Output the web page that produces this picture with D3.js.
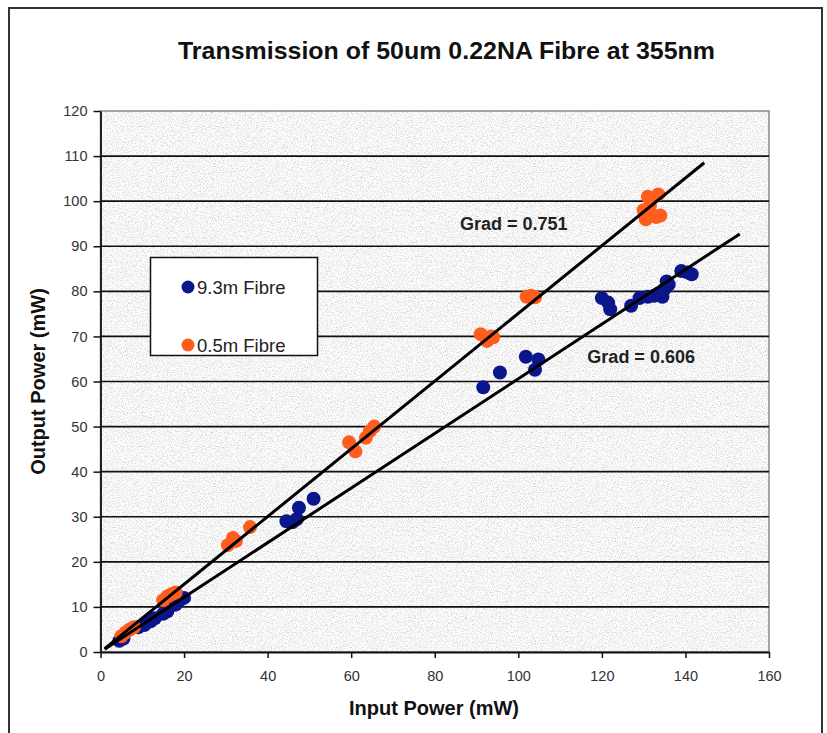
<!DOCTYPE html>
<html>
<head>
<meta charset="utf-8">
<script src="https://cdn.jsdelivr.net/npm/d3@7"></script>
<style>
  html, body { margin: 0; padding: 0; background: #fff; }
  svg { display: block; font-family: "Liberation Sans", Arial, sans-serif; }
</style>
</head>
<body>
<div id="chart"></div>
<script>
/* Transmission of 50um 0.22NA fibre at 355nm — scatter + fitted gradients */

// ── data ────────────────────────────────────────────────────
const fibre93In  = [4.5, 5.5, 9, 10.5, 12, 13, 15, 16, 18, 19, 20,
                    44.5, 46, 47, 47.5, 51,
                    91.6, 95.6, 101.8, 104.8, 104,
                    120, 121.5, 122, 127, 129, 131, 132.5, 133.5, 134.5, 135, 135.5, 136, 139, 140.5, 141.5];
const fibre93Out = [2.5, 3, 5.5, 6, 6.8, 7.5, 8.5, 9, 10.5, 11.5, 12,
                    29, 28.8, 29.5, 32, 34,
                    58.7, 62, 65.5, 64.9, 62.6,
                    78.5, 77.5, 76, 76.8, 78.5, 78.8, 79, 79.5, 78.8, 80.5, 82.2, 81.5, 84.5, 84.2, 83.8];

const fibre05In  = [5, 6, 7, 8, 15, 16, 17, 18,
                    30.5, 31.7, 32.4, 35.8,
                    59.5, 61, 63.5, 64.5, 65.5,
                    91, 92.5, 93.5, 94,
                    102, 103, 104,
                    130, 130.5, 131, 132, 133, 133.5, 134, 131.5];
const fibre05Out = [3.5, 4.3, 5, 5.5, 11.5, 12.3, 12.8, 13.2,
                    23.7, 25.3, 24.6, 27.7,
                    46.5, 44.5, 47.5, 49, 50,
                    70.5, 69, 70, 69.8,
                    78.8, 79, 78.7,
                    98, 96, 101, 97, 96.5, 101.5, 96.8, 99];

const seriesNames = ['9.3m Fibre', '0.5m Fibre'];
const gradients   = [0.606, 0.751];
const fitStart    = [1, 1];
const fitEnd      = [153, 144.5];
const gradLabelAt = [[129.4, 65.4], [98.9, 94.9]];   // [input, output] of the "Grad =" label

const xTicks = [0, 20, 40, 60, 80, 100, 120, 140, 160];
const yTicks = [0, 10, 20, 30, 40, 50, 60, 70, 80, 90, 100, 110, 120];

// ── layout ──────────────────────────────────────────────────
const W = 827, H = 733;
const PL = 100.5, PR = 769, PT = 111, PB = 652;
const COL = { blue: '#0b168c', orange: '#ff5c1e' };
const R = 7;

const svg = d3.select('#chart').append('svg')
  .attr('width', W).attr('height', H);

const defs = svg.append('defs');
const flt = defs.append('filter').attr('id', 'granite')
  .attr('x', 0).attr('y', 0).attr('width', 1).attr('height', 1);
flt.append('feTurbulence')
  .attr('type', 'fractalNoise').attr('baseFrequency', 0.8)
  .attr('numOctaves', 3).attr('seed', 7).attr('result', 'n');
flt.append('feColorMatrix').attr('in', 'n').attr('type', 'matrix')
  .attr('values', '0.9 0 0 0 0.47  0.9 0 0 0 0.47  0.9 0 0 0 0.47  0 0 0 0 1');

defs.append('clipPath').attr('id', 'plotClip')
  .append('rect').attr('x', PL).attr('y', PT)
  .attr('width', PR - PL).attr('height', PB - PT);

// outer frame
svg.append('rect')
  .attr('x', 9).attr('y', 8).attr('width', 813).attr('height', 740)
  .attr('fill', '#fff').attr('stroke', '#333').attr('stroke-width', 2);

const x = d3.scaleLinear().domain([0, 160]).range([PL, PR]);
const y = d3.scaleLinear().domain([0, 120]).range([PB, PT]);

// plot area with granite texture
svg.append('rect')
  .attr('x', PL).attr('y', PT).attr('width', PR - PL).attr('height', PB - PT)
  .attr('filter', 'url(#granite)');
svg.append('rect')
  .attr('x', PL).attr('y', PT).attr('width', PR - PL).attr('height', PB - PT)
  .attr('fill', 'none').attr('stroke', '#8a8a8a').attr('stroke-width', 1.5);

// gridlines
svg.append('g').selectAll('line')
  .data(yTicks.filter(d => d > 0 && d < 120))
  .join('line')
  .attr('x1', PL).attr('x2', PR)
  .attr('y1', d => y(d)).attr('y2', d => y(d))
  .attr('stroke', '#111').attr('stroke-width', 1.6);

// axes
const xAxis = svg.append('g')
  .attr('transform', `translate(0,${PB})`)
  .call(d3.axisBottom(x).tickValues(xTicks).tickSize(6).tickSizeOuter(0));
const yAxis = svg.append('g')
  .attr('transform', `translate(${PL},0)`)
  .call(d3.axisLeft(y).tickValues(yTicks).tickSize(7).tickSizeOuter(0));

[xAxis, yAxis].forEach(a => {
  a.select('.domain').attr('stroke', '#111').attr('stroke-width', 1.8);
  a.selectAll('.tick line').attr('stroke', '#111').attr('stroke-width', 1.5);
  a.selectAll('.tick text')
    .attr('font-family', '"Liberation Sans", Arial, sans-serif')
    .attr('font-size', 14.5).attr('fill', '#333');
});
xAxis.selectAll('.tick text').attr('dy', '1.4em');
yAxis.selectAll('.tick text').attr('x', -13);

// points
const plotG = svg.append('g').attr('clip-path', 'url(#plotClip)');
const sets = [
  { xs: fibre93In, ys: fibre93Out, color: COL.blue },
  { xs: fibre05In, ys: fibre05Out, color: COL.orange },
];
sets.forEach(s => {
  plotG.append('g').selectAll('circle')
    .data(s.xs.map((v, i) => [v, s.ys[i]]))
    .join('circle')
    .attr('cx', d => x(d[0])).attr('cy', d => y(d[1]))
    .attr('r', R).attr('fill', s.color);
});

// fitted lines
gradients.forEach((g, i) => {
  svg.append('line')
    .attr('x1', x(fitStart[i])).attr('y1', y(g * fitStart[i]))
    .attr('x2', x(fitEnd[i])).attr('y2', y(g * fitEnd[i]))
    .attr('stroke', '#000').attr('stroke-width', 3);
  svg.append('text')
    .attr('x', x(gradLabelAt[i][0])).attr('y', y(gradLabelAt[i][1]))
    .attr('text-anchor', 'middle').attr('dy', '0.35em')
    .attr('font-size', 18).attr('font-weight', 'bold').attr('fill', '#222')
    .text(`Grad = ${g}`);
});

// legend
const lg = svg.append('g');
lg.append('rect')
  .attr('x', 150.5).attr('y', 257.5).attr('width', 167).attr('height', 98)
  .attr('fill', '#fff').attr('stroke', '#111').attr('stroke-width', 1.5);
[COL.blue, COL.orange].forEach((c, i) => {
  const cy = 287 + i * 58;
  lg.append('circle').attr('cx', 188).attr('cy', cy).attr('r', 6.5).attr('fill', c);
  lg.append('text').attr('x', 197).attr('y', cy).attr('dy', '0.36em')
    .attr('font-size', 18.5).attr('fill', '#222').text(seriesNames[i]);
});

// titles
svg.append('text')
  .attr('x', 446.5).attr('y', 51).attr('dy', '0.35em')
  .attr('text-anchor', 'middle')
  .attr('font-size', 24).attr('font-weight', 'bold').attr('fill', '#111')
  .attr('textLength', 537).attr('lengthAdjust', 'spacingAndGlyphs')
  .text('Transmission of 50um 0.22NA Fibre at 355nm');

svg.append('text')
  .attr('x', 434).attr('y', 708).attr('dy', '0.35em')
  .attr('text-anchor', 'middle')
  .attr('font-size', 20).attr('font-weight', 'bold').attr('fill', '#111')
  .text('Input Power (mW)');

svg.append('text')
  .attr('transform', `translate(38,${(PT + PB) / 2}) rotate(-90)`)
  .attr('dy', '0.35em')
  .attr('text-anchor', 'middle')
  .attr('font-size', 20).attr('font-weight', 'bold').attr('fill', '#111')
  .text('Output Power (mW)');
</script>
</body>
</html>
